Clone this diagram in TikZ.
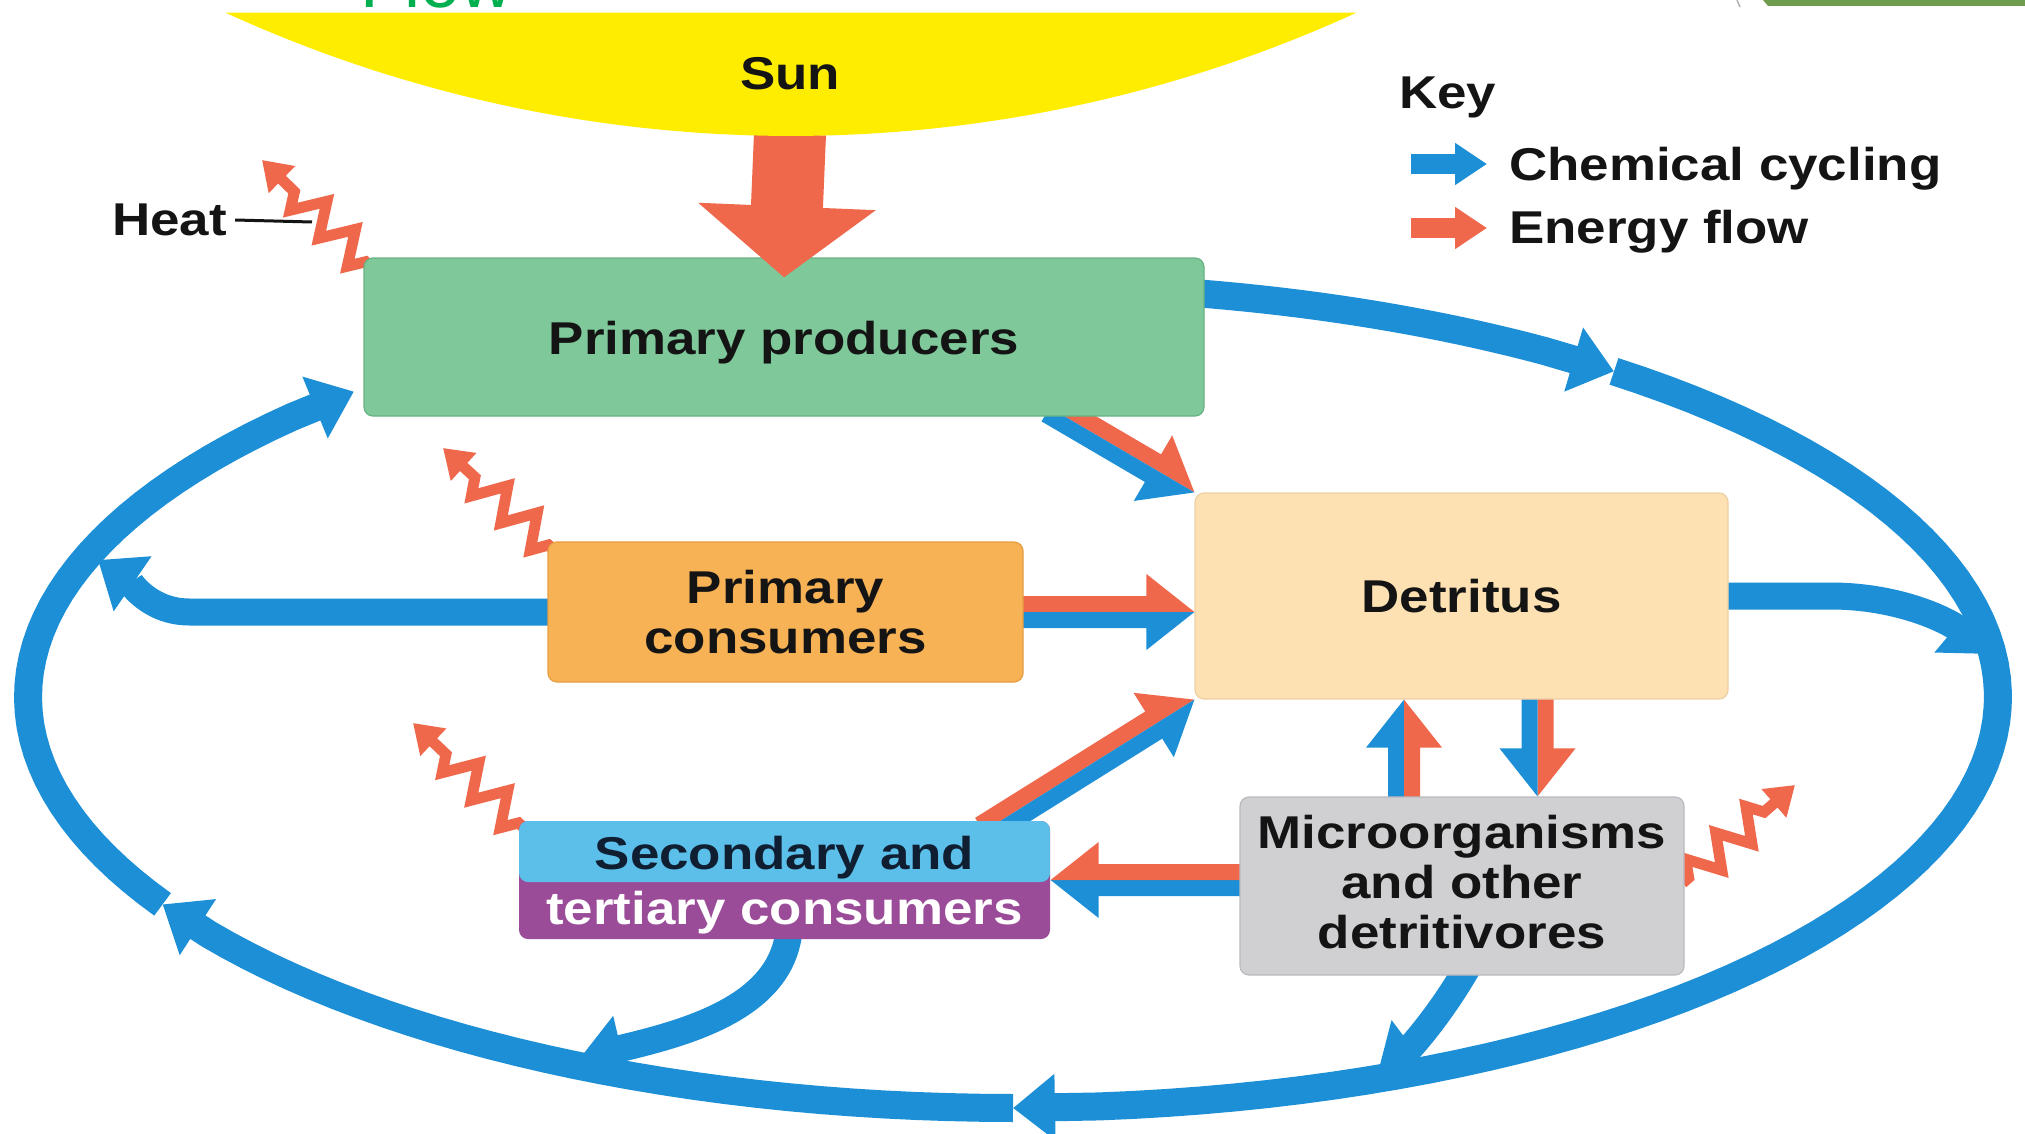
\documentclass[tikz,border=0pt]{standalone}
\usepackage{fontspec}
\setmainfont{Liberation Sans}
\newfontfamily\labelfont[FakeStretch=1.15]{Liberation Sans}
\usetikzlibrary{arrows.meta,calc,decorations.pathmorphing}

\definecolor{chem}{RGB}{28,143,214}
\definecolor{energy}{RGB}{239,104,76}
\definecolor{sunyellow}{RGB}{255,237,0}
\definecolor{prodgreen}{RGB}{126,200,154}
\definecolor{prodedge}{RGB}{105,178,132}
\definecolor{pcorange}{RGB}{247,178,86}
\definecolor{pcedge}{RGB}{230,158,64}
\definecolor{detpeach}{RGB}{253,225,179}
\definecolor{detedge}{RGB}{238,208,165}
\definecolor{secblue}{RGB}{91,191,234}
\definecolor{secpurple}{RGB}{154,76,152}
\definecolor{microgray}{RGB}{208,208,211}
\definecolor{microedge}{RGB}{186,186,190}
\definecolor{inkblack}{RGB}{20,20,20}
\definecolor{inknavy}{RGB}{16,30,50}
\definecolor{slidegreen}{RGB}{0,176,80}
\definecolor{bargreen}{RGB}{111,156,79}

\newcommand\lbl{\labelfont\bfseries\fontsize{46}{50}\selectfont}

% a flow arrow split lengthwise: #3 fills the half on the left of travel, #4 the right half
\newcommand\twinarrow[4]{%
  \coordinate (tw-a) at (#1);
  \coordinate (tw-b) at (#2);
  \coordinate (tw-h) at ($(tw-b)!48pt!(tw-a)$);
  \fill[#3] (tw-a) -- ($(tw-a)!16pt!90:(tw-b)$) -- ($(tw-h)!16pt!90:(tw-b)$)
     -- ($(tw-h)!38pt!90:(tw-b)$) -- (tw-b) -- (tw-h) -- cycle;
  \fill[#4] (tw-a) -- ($(tw-a)!16pt!-90:(tw-b)$) -- ($(tw-h)!16pt!-90:(tw-b)$)
     -- ($(tw-h)!38pt!-90:(tw-b)$) -- (tw-b) -- (tw-h) -- cycle;
}

\tikzset{
  box/.style={rounded corners=9pt, inner sep=0pt, align=center, font=\lbl, text=inkblack, line width=1.2pt},
  txt/.style={inner sep=0pt, font=\lbl, text=inkblack},
  loopline/.style={draw=chem, line width=28pt, line join=round, -{Triangle[width=64pt,length=42pt]}},
  branch/.style={draw=chem, line width=27pt, -{Triangle[width=64pt,length=42pt]}},
  heatarrow/.style={draw=energy, line width=11pt, line join=miter, -{Triangle[width=36pt,length=28pt]},
     decorate, decoration={zigzag, segment length=40pt, amplitude=16pt, pre length=8pt, post length=34pt}},
  keyarrow/.style={line width=20pt, -{Triangle[width=40pt,length=32pt]}},
}

\begin{document}
\begin{tikzpicture}[x=1pt,y=-1pt]
\useasboundingbox (0,0) rectangle (2025,1134);
\clip (0,0) rectangle (2025,1134);
\fill[white] (0,0) rectangle (2025,1134);

% slide heading remnants along the top edge
\node[anchor=base west, inner sep=0pt, text=slidegreen, font=\fontsize{72}{72}\selectfont] (flow) at (360,8) {Flow};
\fill[bargreen] (1763,0) -- (2025,0) -- (2025,6) -- (1768,6) -- cycle;
\draw[gray!60, line width=1.5pt] (1737,0) -- (1740,7);

% the chemical cycling loop
\coordinate (lp-a) at ({1013+985*cos(-52.4)},{697+411*sin(-52.4)});
\coordinate (lp-b) at ({1013+985*cos(90)},{697+411*sin(90)});
\coordinate (lp-c) at ({1013+985*cos(149.7)},{697+411*sin(149.7)});
\coordinate (lp-d) at ({1013+985*cos(228)},{697+411*sin(228)});
\draw[loopline] plot[domain=-84:-57.4, samples=25, variable=\t] ({1013+985*cos(\t)},{697+411*sin(\t)}) -- (lp-a);
\draw[loopline] plot[domain=-52.4:85, samples=70, variable=\t] ({1013+985*cos(\t)},{697+411*sin(\t)}) -- (lp-b);
\draw[loopline] plot[domain=90:144.7, samples=30, variable=\t] ({1013+985*cos(\t)},{697+411*sin(\t)}) -- (lp-c);
\draw[loopline] plot[domain=149.7:223, samples=40, variable=\t] ({1013+985*cos(\t)},{697+411*sin(\t)}) -- (lp-d);

% node frames (placed first so connectors can refer to them; filled on top below)
\path node[box, minimum width=840pt, minimum height=158pt] (prod) at (784,337) {}
      node[box, minimum width=475pt, minimum height=140pt] (pc) at (785.5,612) {}
      node[box, minimum width=533pt, minimum height=206pt] (det) at (1461.5,596) {}
      node[box, minimum width=531pt, minimum height=118pt] (sec) at (784.5,880) {}
      node[box, minimum width=444pt, minimum height=178pt] (micro) at (1462,886) {};

% branches feeding the loop
\coordinate (pcb-1) at ($(pc.west)+(-358,0)$);
\coordinate (pcb-c1) at ($(pc.west)+(-398,0)$);
\coordinate (pcb-c2) at (130,582);
\coordinate (pcb-tip) at (98,560);
\draw[branch] ($(pc.west)+(20,0)$) -- (pcb-1) .. controls (pcb-c1) and (pcb-c2) .. (pcb-tip);

\coordinate (detb-1) at ($(det.east)+(102,0)$);
\coordinate (detb-c1) at ($(det.east)+(172,0)$);
\coordinate (detb-c2) at (1950,622);
\coordinate (detb-tip) at (1988,654);
\draw[branch] ($(det.east)+(-20,0)$) -- (detb-1) .. controls (detb-c1) and (detb-c2) .. (detb-tip);

\coordinate (secb-c1) at (790,1005);
\coordinate (secb-c2) at (690,1032);
\coordinate (secb-tip) at (580,1058);
\draw[branch] ($(sec.south)+(5,-20)$) .. controls (secb-c1) and (secb-c2) .. (secb-tip);

\coordinate (mib-c1) at (1445,1010);
\coordinate (mib-c2) at (1410,1048);
\coordinate (mib-tip) at (1378,1072);
\draw[branch] ($(micro.south)+(12,-20)$) .. controls (mib-c1) and (mib-c2) .. (mib-tip);

% paired energy / chemical arrows between the compartments
\twinarrow{$(prod.south)+(2,-20)$}{$(prod.south)+(2,-20)$ |- pc.north}{energy}{chem}
\twinarrow{$(pc.south)+(1,-20)$}{$(pc.south)+(1,-20)$ |- sec.north}{energy}{chem}
\twinarrow{$(pc.east)+(-20,0)$}{pc.east -| det.west}{energy}{chem}
\twinarrow{$(prod.south east)+(-155,-9)$}{det.north west}{energy}{chem}
\twinarrow{$(sec.north east)+(-67,11)$}{det.south west}{energy}{chem}
\coordinate (mu-a) at ($(micro.north)+(-58,20)$);
\twinarrow{mu-a}{mu-a |- det.south}{chem}{energy}
\coordinate (md-a) at ($(det.south)+(76,-20)$);
\twinarrow{md-a}{md-a |- micro.north}{energy}{chem}
\coordinate (ms-a) at ($(micro.west)+(20,-6)$);
\twinarrow{ms-a}{ms-a -| sec.east}{chem}{energy}

% heat given off
\coordinate (h1-a) at ($(prod.north west)+(8,10)$);
\coordinate (h1-b) at (262,160);
\coordinate (h2-a) at ($(pc.north west)+(7,9)$);
\coordinate (h2-b) at (443,448);
\coordinate (h3-a) at ($(sec.north west)+(6,8)$);
\coordinate (h3-b) at (413,723);
\coordinate (h4-a) at ($(micro.east)+(-2,-3)$);
\coordinate (h4-b) at (1795,785);
\draw[heatarrow] (h1-a) -- (h1-b);
\draw[heatarrow] (h2-a) -- (h2-b);
\draw[heatarrow] (h3-a) -- (h3-b);
\draw[heatarrow] (h4-a) -- (h4-b);

% compartments
\node[box, fill=prodgreen, draw=prodedge, minimum width=840pt, minimum height=158pt] at (prod.center) {};
\node[txt] (prod-text) at ([yshift=-6pt]prod.center) {Primary producers};
\node[box, fill=pcorange, draw=pcedge, minimum width=475pt, minimum height=140pt] at (pc.center) {Primary\\consumers};
\node[box, fill=detpeach, draw=detedge, minimum width=533pt, minimum height=206pt] at (det.center) {Detritus};
\node[box, fill=secpurple, minimum width=531pt, minimum height=118pt,
      path picture={\fill[secblue] ([yshift=2pt]path picture bounding box.north west) rectangle ([yshift=-2pt]path picture bounding box.east);}]
      at (sec.center) {};
\node[txt, text=inknavy] (sec-top) at ([yshift=22pt]sec.center) {Secondary and};
\node[txt, text=white] (sec-bot) at ([yshift=-33pt]sec.center) {tertiary consumers};
\node[box, fill=microgray, draw=microedge, minimum width=444pt, minimum height=178pt] at (micro.center) {};
\node[txt, align=center] (micro-text) at ([yshift=4pt]micro.center) {Microorganisms\\and other\\detritivores};

% the sun and its energy input
\coordinate (sun-mid) at (790,74);
\coordinate (sun-base) at (790,134);
\coordinate (sun-tip) at ([yshift=-20pt]prod.north);
\draw[draw=energy, line width=72pt, -{Triangle[width=174pt,length=71pt]}] (sun-base) -- (sun-tip);
\fill[sunyellow] plot[domain=65.4:114.6, samples=90, variable=\t] ({791+1359*cos(\t)},{-1223+1359*sin(\t)}) -- cycle;
\node[txt] (sun) at (sun-mid) {Sun};

% heat label
\node[txt, anchor=west] (heat) at (112,220) {Heat};
\coordinate (heat-tick) at (312,222);
\draw[inkblack, line width=3pt] ([xshift=8pt]heat.east) -- (heat-tick);

% key
\node[txt, anchor=west] (key) at (1399,97) {Key};
\coordinate (k1a) at (1411,164);
\coordinate (k1b) at (1487,164);
\coordinate (k2a) at (1411,228);
\coordinate (k2b) at (1487,228);
\draw[keyarrow, draw=chem] (k1a) -- (k1b);
\draw[keyarrow, draw=energy] (k2a) -- (k2b);
\node[txt, anchor=west] (key-chem) at ([xshift=22pt,yshift=-5pt]k1b) {Chemical cycling};
\node[txt, anchor=west] (key-energy) at ([xshift=22pt,yshift=-4pt]k2b) {Energy flow};
\end{tikzpicture}
\end{document}
